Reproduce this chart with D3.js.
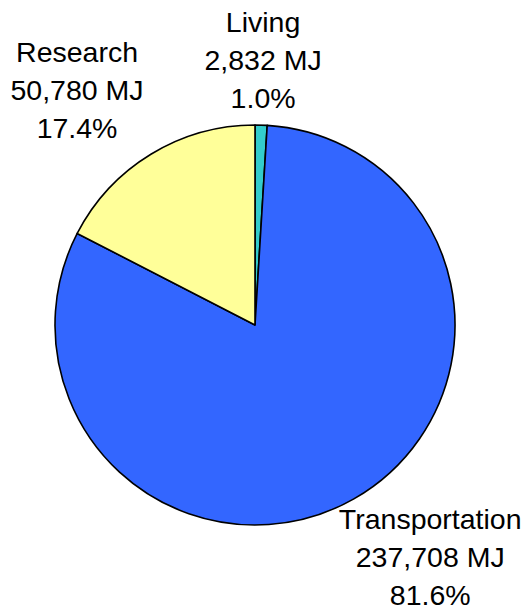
<!DOCTYPE html>
<html>
<head>
<meta charset="utf-8">
<script src="https://cdn.jsdelivr.net/npm/d3@7"></script>
<style>
  html, body { margin: 0; padding: 0; background: #fff; }
  svg { display: block; }
  text { font-family: "Liberation Sans", Arial, sans-serif; font-size: 28.5px; fill: #000; }
</style>
</head>
<body>
<svg id="chart" width="529" height="615"></svg>
<script>
// Energy use by category (MJ), drawn clockwise from 12 o'clock
const categories = ["Living", "Transportation", "Research"];
const energyMJ = [2832, 237708, 50780];
const colors = ["#33CCCC", "#3366FF", "#FFFF99"];

const width = 529, height = 615;
const cx = 255, cy = 325, radius = 200;
const lineHeight = 38;

const svg = d3.select("#chart");
const g = svg.append("g").attr("transform", `translate(${cx},${cy})`);

const data = categories.map((c, i) => ({ name: c, value: energyMJ[i], color: colors[i] }));
const total = d3.sum(energyMJ);

const pie = d3.pie().value(d => d.value).sort(null);
const arc = d3.arc().innerRadius(0).outerRadius(radius);
const arcs = pie(data);

g.selectAll("path.slice")
  .data(arcs)
  .join("path")
  .attr("class", "slice")
  .attr("d", arc)
  .attr("fill", d => d.data.color)
  .attr("stroke", "#000")
  .attr("stroke-width", 1.6)
  .attr("stroke-linejoin", "round");

// Label placement: distance from centre and angular nudge (radians) per slice
const labelLayout = {
  "Living": { r: 265, shift: 0 },
  "Transportation": { r: 291, shift: -0.129 },
  "Research": { r: 295, shift: -0.1 }
};

const fmt = d3.format(",");
const pct = d3.format(".1%");

arcs.forEach(a => {
  const lay = labelLayout[a.data.name];
  const ang = (a.startAngle + a.endAngle) / 2 + lay.shift;
  const x = lay.r * Math.sin(ang);
  const y = -lay.r * Math.cos(ang);
  const lines = [a.data.name, fmt(a.data.value) + " MJ", pct(a.data.value / total)];
  const t = g.append("text")
    .attr("text-anchor", "middle")
    .attr("transform", `translate(${x},${y})`);
  lines.forEach((ln, i) => {
    t.append("tspan")
      .attr("x", 0)
      .attr("y", (i - 1) * lineHeight + 10)
      .text(ln);
  });
});
</script>
</body>
</html>
